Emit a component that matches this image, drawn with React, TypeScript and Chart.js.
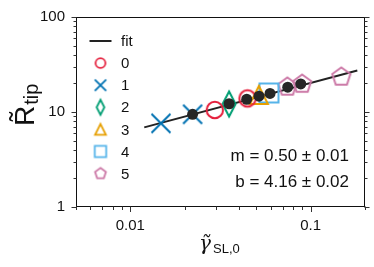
import React, { useEffect, useRef } from 'react';
import { Chart, registerables } from 'chart.js';

Chart.register(...registerables);

// ---------- data ----------
const seriesLabels = ['0', '1', '2', '3', '4', '5'];
const seriesColors = ['#e5203d', '#0072b2', '#009e73', '#e69f00', '#56b4e9', '#cc79a7'];
const seriesShapes = ['circle', 'cross', 'diamond', 'triangle', 'square', 'pentagon'];

const s0x = [0.0294, 0.0446];
const s0y = [10.5, 13.9];
const s1x = [0.01479, 0.02215];
const s1y = [7.6, 9.46];
const s2x = [0.0353];
const s2y = [12.15];
const s3x = [0.0516];
const s3y = [15.12];
const s4x = [0.0587];
const s4y = [15.87];
const s5x = [0.0743, 0.0897, 0.1479];
const s5y = [18.37, 19.7, 23.4];
const seriesX = [s0x, s1x, s2x, s3x, s4x, s5x];
const seriesY = [s0y, s1y, s2y, s3y, s4y, s5y];

const meanX = [0.02215, 0.0353, 0.0442, 0.0517, 0.0595, 0.0746, 0.0881];
const meanY = [9.46, 12.21, 13.62, 14.69, 15.68, 18.23, 19.75];

const fitX = [0.01195, 0.1813];
const fitY = [6.89, 27.3];

const xMajorTicks = [0.01, 0.1];
const xMajorLabels = ['0.01', '0.1'];
const xMinorTicks = [0.005, 0.006, 0.007, 0.008, 0.009, 0.02, 0.03, 0.04, 0.05, 0.06, 0.07, 0.08, 0.09, 0.2];
const yMajorTicks = [1, 10, 100];
const yMajorLabels = ['1', '10', '100'];
const yMinorTicks = [2, 3, 4, 5, 6, 7, 8, 9, 20, 30, 40, 50, 60, 70, 80, 90];

const annotationLines = ['m = 0.50 \u00b1 0.01', 'b = 4.16 \u00b1 0.02'];

const FONT = '"Liberation Sans", Arial, sans-serif';

// ---------- marker images ----------
const markerDims: Record<string, [number, number]> = {
  circle: [8.2, 8.2],
  cross: [9.5, 9.5],
  diamond: [6.5, 12.5],
  triangle: [9, 9],
  square: [9.5, 9.5],
  pentagon: [9.5, 9.5],
};

function makeMarker(shape: string, color: string, k: number, lw: number): HTMLCanvasElement {
  const [dw, dh] = markerDims[shape];
  const hw = dw * k;
  const hh = dh * k;
  const pad = 3;
  const W = 2 * Math.ceil(hw + pad);
  const H = 2 * Math.ceil(hh + pad);
  const c = document.createElement('canvas');
  c.width = W;
  c.height = H;
  const ctx = c.getContext('2d')!;
  ctx.translate(W / 2, H / 2);
  ctx.strokeStyle = color;
  ctx.lineWidth = lw;
  ctx.lineJoin = 'miter';
  ctx.lineCap = 'butt';
  ctx.beginPath();
  if (shape === 'circle') {
    ctx.arc(0, 0, hw, 0, Math.PI * 2);
  } else if (shape === 'cross') {
    ctx.moveTo(-hw, -hw);
    ctx.lineTo(hw, hw);
    ctx.moveTo(-hw, hw);
    ctx.lineTo(hw, -hw);
  } else if (shape === 'diamond') {
    ctx.moveTo(0, -hh);
    ctx.lineTo(hw, 0);
    ctx.lineTo(0, hh);
    ctx.lineTo(-hw, 0);
    ctx.closePath();
  } else if (shape === 'triangle') {
    ctx.moveTo(0, -hh);
    ctx.lineTo(hw, hh);
    ctx.lineTo(-hw, hh);
    ctx.closePath();
  } else if (shape === 'square') {
    ctx.rect(-hw, -hh, 2 * hw, 2 * hh);
  } else if (shape === 'pentagon') {
    for (let i = 0; i < 5; i++) {
      const a = -Math.PI / 2 + (i * 2 * Math.PI) / 5;
      const px = Math.cos(a) * hh;
      const py = Math.sin(a) * hh;
      if (i === 0) ctx.moveTo(px, py);
      else ctx.lineTo(px, py);
    }
    ctx.closePath();
  }
  ctx.stroke();
  return c;
}

// ---------- custom drawing plugin (frame, ticks, labels, legend, annotation) ----------
const decorPlugin = {
  id: 'decor',
  afterDraw(chart: any) {
    const ctx: CanvasRenderingContext2D = chart.ctx;
    const { left, right, top, bottom } = chart.chartArea;
    const xs = chart.scales.x;
    const ys = chart.scales.y;
    ctx.save();

    // frame
    ctx.strokeStyle = '#111';
    ctx.lineWidth = 1;
    ctx.strokeRect(Math.round(left) + 0.5, Math.round(top) + 0.5, Math.round(right - left) - 1, Math.round(bottom - top) - 1);

    // ticks
    ctx.strokeStyle = '#333';
    ctx.lineWidth = 1;
    const L = Math.round(left) + 0.5;
    const R = Math.round(right) - 0.5;
    const B = Math.round(bottom) - 0.5;
    const tick = (x1: number, y1: number, x2: number, y2: number) => {
      ctx.beginPath();
      ctx.moveTo(x1, y1);
      ctx.lineTo(x2, y2);
      ctx.stroke();
    };
    xMajorTicks.forEach((v) => {
      const x = Math.round(xs.getPixelForValue(v)) + 0.5;
      tick(x, B, x, B + 5.5);
    });
    xMinorTicks.forEach((v) => {
      const x = Math.round(xs.getPixelForValue(v)) + 0.5;
      tick(x, B, x, B + 3.5);
    });
    yMajorTicks.forEach((v) => {
      const y = Math.round(ys.getPixelForValue(v)) + 0.5;
      tick(L, y, L - 5, y);
      tick(R, y, R + 5, y);
    });
    yMinorTicks.forEach((v) => {
      const y = Math.round(ys.getPixelForValue(v)) + 0.5;
      tick(L, y, L - 3, y);
      tick(R, y, R + 3, y);
    });

    // tick labels
    ctx.fillStyle = '#111';
    ctx.font = `15px ${FONT}`;
    ctx.textAlign = 'center';
    ctx.textBaseline = 'middle';
    xMajorTicks.forEach((v, i) => {
      ctx.fillText(xMajorLabels[i], xs.getPixelForValue(v), bottom + 19);
    });
    ctx.textAlign = 'right';
    yMajorTicks.forEach((v, i) => {
      ctx.fillText(yMajorLabels[i], left - 11, ys.getPixelForValue(v));
    });

    // x axis title
    ctx.textAlign = 'left';
    ctx.textBaseline = 'alphabetic';
    ctx.font = `italic 20px "DejaVu Serif", serif`;
    ctx.fillText('\u03b3\u0303', 199, 250);
    ctx.font = `13px ${FONT}`;
    ctx.fillText('SL,0', 213, 253);

    // y axis title
    ctx.save();
    ctx.translate(34, 126);
    ctx.rotate(-Math.PI / 2);
    ctx.font = `28px ${FONT}`;
    ctx.fillText('R\u0303', 0, 0);
    const wR = ctx.measureText('R').width;
    ctx.font = `20px ${FONT}`;
    ctx.fillText('tip', wR + 1, 4);
    ctx.restore();

    // legend
    const mx = left + 24.5;
    const tx = left + 45;
    const rowY = (i: number) => top + 24 + i * 22.1;
    ctx.font = `15px ${FONT}`;
    ctx.textAlign = 'left';
    ctx.textBaseline = 'middle';
    ctx.fillStyle = '#111';
    const fitDs = chart.data.datasets.find((d: any) => d.label === 'fit');
    ctx.strokeStyle = fitDs.borderColor;
    ctx.lineWidth = fitDs.borderWidth;
    ctx.beginPath();
    ctx.moveTo(mx - 11, rowY(0));
    ctx.lineTo(mx + 11, rowY(0));
    ctx.stroke();
    ctx.fillText('fit', tx, rowY(0) + 1);
    seriesLabels.forEach((lab, i) => {
      const ds = chart.data.datasets.find((d: any) => d.label === lab);
      const img: HTMLCanvasElement = ds.legendImage;
      const y = rowY(i + 1);
      ctx.drawImage(img, mx - img.width / 2, y - img.height / 2);
      ctx.fillText(lab, tx, y + 1);
    });

    // annotation
    ctx.font = `17px ${FONT}`;
    ctx.textAlign = 'right';
    ctx.textBaseline = 'middle';
    ctx.fillText(annotationLines[0], right - 16, top + 139);
    ctx.fillText(annotationLines[1], right - 16, top + 165);

    ctx.restore();
  },
};

export default function App() {
  const canvasRef = useRef<HTMLCanvasElement | null>(null);

  useEffect(() => {
    document.body.style.margin = '0';
    const canvas = canvasRef.current;
    if (!canvas) return;

    const datasets: any[] = [];
    datasets.push({
      label: 'mean',
      data: meanX.map((x, i) => ({ x, y: meanY[i] })),
      pointStyle: 'circle',
      pointRadius: 5.5,
      backgroundColor: '#262626',
      borderWidth: 0,
      showLine: false,
      order: 0,
    });
    seriesLabels.forEach((lab, i) => {
      datasets.push({
        label: lab,
        data: seriesX[i].map((x, j) => ({ x, y: seriesY[i][j] })),
        pointStyle: makeMarker(seriesShapes[i], seriesColors[i], 1, 2),
        legendImage: makeMarker(seriesShapes[i], seriesColors[i], 0.6, 1.8),
        pointRadius: 5,
        borderColor: seriesColors[i],
        backgroundColor: 'transparent',
        showLine: false,
        order: 1 + i,
      });
    });
    datasets.push({
      label: 'fit',
      data: fitX.map((x, i) => ({ x, y: fitY[i] })),
      showLine: true,
      borderColor: '#222',
      borderWidth: 2,
      pointRadius: 0,
      order: 20,
    });

    const chart = new Chart(canvas, {
      type: 'scatter',
      data: { datasets },
      options: {
        responsive: false,
        animation: false,
        devicePixelRatio: 1,
        events: [],
        layout: { padding: { top: 17, right: 9, left: 0, bottom: 0 } },
        plugins: {
          legend: { display: false },
          tooltip: { enabled: false },
        },
        scales: {
          x: {
            type: 'logarithmic',
            min: 0.005,
            max: 0.2,
            ticks: { display: false },
            grid: { display: false },
            border: { display: false },
            afterFit: (s: any) => {
              s.height = 60;
            },
          },
          y: {
            type: 'logarithmic',
            min: 1,
            max: 100,
            ticks: { display: false },
            grid: { display: false },
            border: { display: false },
            afterFit: (s: any) => {
              s.width = 76;
            },
          },
        },
      } as any,
      plugins: [decorPlugin],
    });

    return () => chart.destroy();
  }, []);

  return (
    <div style={{ width: 374, height: 267 }}>
      <canvas ref={canvasRef} width={374} height={267} style={{ display: 'block', width: 374, height: 267 }} />
    </div>
  );
}
